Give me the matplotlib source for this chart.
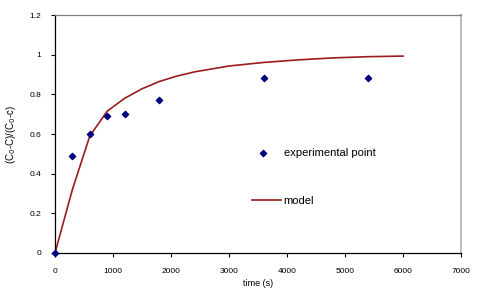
import matplotlib
matplotlib.use("Agg")
import matplotlib.pyplot as plt

plt.rcParams['font.family'] = ['Liberation Sans', 'DejaVu Sans']

exp_t = [0, 300, 600, 900, 1200, 1800, 3600, 5400]
exp_y = [0, 0.488, 0.601, 0.692, 0.701, 0.770, 0.881, 0.881]

model_t = [0, 300, 600, 900, 1200, 1500, 1800, 2100, 2400, 3000, 3600, 4200, 4800, 5400, 6000]
model_y = [0, 0.32, 0.59, 0.715, 0.78, 0.828, 0.865, 0.892, 0.913, 0.943, 0.961, 0.974, 0.984, 0.99, 0.993]

xticks = [0, 1000, 2000, 3000, 4000, 5000, 6000, 7000]
yticks = [0, 0.2, 0.4, 0.6, 0.8, 1, 1.2]
ytick_labels = ['0', '0.2', '0.4', '0.6', '0.8', '1', '1.2']

fig = plt.figure(figsize=(5, 3.07), dpi=100)
ax = fig.add_axes([0.11, 0.176, 0.812, 0.775])

ax.plot(model_t, model_y, color='#9b1c1c', lw=1.2, zorder=2, label='model')
ax.scatter(exp_t, exp_y, marker='D', s=10, color='#000080', zorder=3, label='experimental point', clip_on=False)

ax.set_xlim(0, 7000)
ax.set_ylim(0, 1.2)
ax.set_xticks(xticks)
ax.set_yticks(yticks)
ax.set_yticklabels(ytick_labels)
ax.tick_params(axis='both', labelsize=6, length=3, width=0.8, direction='out')
ax.tick_params(axis='x', pad=8)
ax.tick_params(axis='y', pad=7)

ax.spines['left'].set_color('black')
ax.spines['bottom'].set_color('black')
ax.spines['top'].set_color('#808080')
ax.spines['right'].set_color('#c0c0c0')
ax.spines['right'].set_linewidth(1.5)
for s in ['left', 'bottom', 'top']:
    ax.spines[s].set_linewidth(0.9)

ax.set_xlabel('time (s)', fontsize=6.5, labelpad=3)
ax.set_ylabel('(C$_0$-C)/(C$_0$-c)', fontsize=7, labelpad=8)

h_line = ax.get_lines()[0]
leg1 = ax.legend(handles=[ax.collections[0]], labels=['experimental point'],
                 loc='center left', bbox_to_anchor=(0.48, 0.42), frameon=False,
                 fontsize=8, handletextpad=1.2, borderaxespad=0, handlelength=1.5)
ax.add_artist(leg1)
ax.legend(handles=[h_line], labels=['model'], loc='center left',
          bbox_to_anchor=(0.475, 0.218), frameon=False, fontsize=8,
          handletextpad=0.2, borderaxespad=0, handlelength=2.6)

fig.savefig('out.png', dpi=100)
